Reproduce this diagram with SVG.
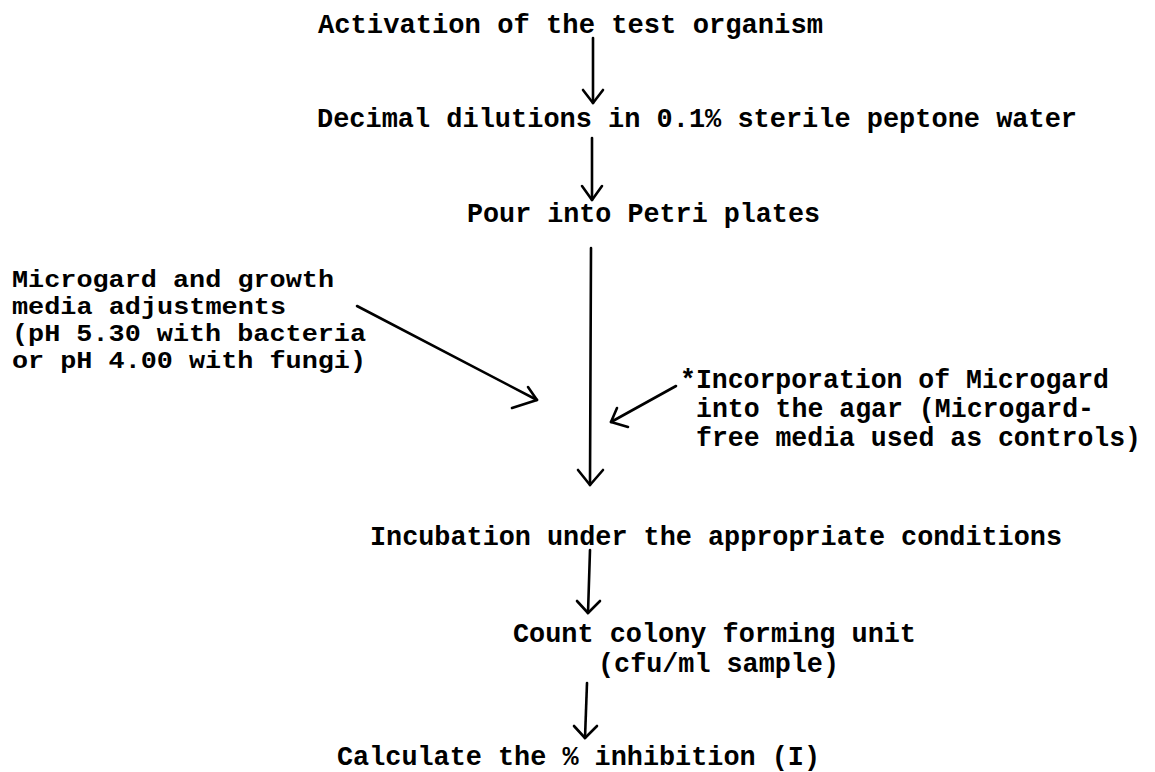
<svg xmlns="http://www.w3.org/2000/svg" width="1155" height="772" viewBox="0 0 1155 772">
<style>
  .t { font-family: "Liberation Mono", "Courier New", monospace; font-size: 27px; font-weight: bold; fill: #000; }
  .s { font-size: 24px; }
  .c { fill: none; stroke: #000; stroke-width: 2.6; stroke-linecap: round; stroke-linejoin: round; }
</style>
<rect width="1155" height="772" fill="#fff"/>
<g id="node-activation">
  <text class="t" x="318" y="33" textLength="505" lengthAdjust="spacingAndGlyphs">Activation of the test organism</text>
</g>
<g id="node-dilutions">
  <text class="t" x="317" y="127" textLength="760" lengthAdjust="spacingAndGlyphs">Decimal dilutions in 0.1% sterile peptone water</text>
</g>
<g id="node-pour">
  <text class="t" x="467" y="222" textLength="353" lengthAdjust="spacingAndGlyphs">Pour into Petri plates</text>
</g>
<g id="node-adjustments">
  <text class="t s" x="12" y="287" textLength="322" lengthAdjust="spacingAndGlyphs">Microgard and growth</text>
  <text class="t s" x="12" y="314" textLength="274" lengthAdjust="spacingAndGlyphs">media adjustments</text>
  <text class="t s" x="12" y="341" textLength="354" lengthAdjust="spacingAndGlyphs">(pH 5.30 with bacteria</text>
  <text class="t s" x="12" y="368" textLength="354" lengthAdjust="spacingAndGlyphs">or pH 4.00 with fungi)</text>
</g>
<g id="node-incorporation">
  <text class="t" x="680" y="388" textLength="429" lengthAdjust="spacingAndGlyphs">*Incorporation of Microgard</text>
  <text class="t" x="696" y="417" textLength="398" lengthAdjust="spacingAndGlyphs">into the agar (Microgard-</text>
  <text class="t" x="696" y="446" textLength="445" lengthAdjust="spacingAndGlyphs">free media used as controls)</text>
</g>
<g id="node-incubation">
  <text class="t" x="370" y="545" textLength="692" lengthAdjust="spacingAndGlyphs">Incubation under the appropriate conditions</text>
</g>
<g id="node-count">
  <text class="t" x="513" y="642" textLength="403" lengthAdjust="spacingAndGlyphs">Count colony forming unit</text>
  <text class="t" x="598" y="672" textLength="241" lengthAdjust="spacingAndGlyphs">(cfu/ml sample)</text>
</g>
<g id="node-calculate">
  <text class="t" x="337" y="765" textLength="483" lengthAdjust="spacingAndGlyphs">Calculate the % inhibition (I)</text>
</g>
<g id="connectors">
  <line class="c" x1="593" y1="38" x2="593" y2="103"/>
  <polyline class="c" points="583,90 593,103 603,90"/>
  <line class="c" x1="592" y1="138" x2="592" y2="200"/>
  <polyline class="c" points="582,186 592,200 602,186"/>
  <line class="c" x1="591" y1="248" x2="590" y2="485"/>
  <polyline class="c" points="578,470 590,485 603,470"/>
  <line class="c" x1="357" y1="306" x2="537" y2="400"/>
  <polyline class="c" points="512,408 537,400 528,387"/>
  <line class="c" x1="676" y1="386" x2="611" y2="422"/>
  <polyline class="c" points="617,408 611,422 628,427"/>
  <line class="c" x1="590" y1="550" x2="588" y2="613"/>
  <polyline class="c" points="577,601 588,613 600,601"/>
  <line class="c" x1="587" y1="683" x2="585" y2="738"/>
  <polyline class="c" points="574,726 585,738 597,726"/>
</g>
</svg>
